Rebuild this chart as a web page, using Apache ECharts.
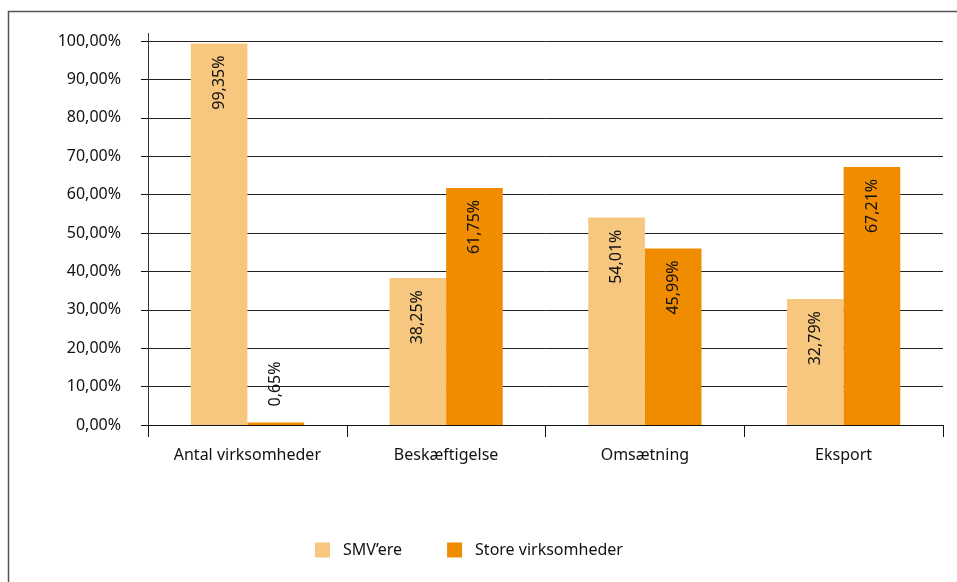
<!DOCTYPE html>
<html>
<head>
<meta charset="utf-8">
<script src="https://cdn.jsdelivr.net/npm/echarts@6/dist/echarts.min.js"></script>
<style>
  html, body { margin: 0; padding: 0; background: #fff; }
  #chart { width: 957px; height: 582px; }
</style>
</head>
<body>
<div id="chart"></div>
<script>
// Categories and shares (percent) for SMEs vs. large companies
const categories = ['Antal virksomheder', 'Beskæftigelse', 'Omsætning', 'Eksport'];
const smvValues = [99.35, 38.25, 54.01, 32.79];
const storeValues = [0.65, 61.75, 45.99, 67.21];
const seriesNames = ['SMV\u2019ere', 'Store virksomheder'];

const FONT = '"Noto Sans", "Open Sans", sans-serif';
const FS = 16;
const fmtPct = v => v.toFixed(2).replace('.', ',') + '%';

const chart = echarts.init(document.getElementById('chart'), null, { renderer: 'canvas' });

// Inside-top rotated labels; small bars get their label above the bar
function labelFor(v) {
  if (v < 5) {
    return {
      show: true, position: 'top', rotate: 90, align: 'left', verticalAlign: 'middle',
      distance: 16, formatter: p => fmtPct(p.value),
      fontFamily: FONT, fontSize: FS, color: '#111'
    };
  }
  return {
    show: true, position: 'insideTop', rotate: 90, align: 'right', verticalAlign: 'middle',
    distance: 12, formatter: p => fmtPct(p.value),
    fontFamily: FONT, fontSize: FS, color: '#111'
  };
}

const mkData = arr => arr.map(v => ({ value: v, label: labelFor(v) }));

chart.setOption({
  animation: false,
  backgroundColor: '#fff',
  textStyle: { fontFamily: FONT },
  grid: { left: 148, top: 41, right: 14, bottom: 157, containLabel: false },
  legend: {
    bottom: 19, left: 310,
    itemWidth: 15, itemHeight: 15, itemGap: 45,
    icon: 'rect',
    textStyle: { fontFamily: FONT, fontSize: FS, color: '#111', padding: [0, 0, 0, 8] },
    data: seriesNames
  },
  xAxis: {
    type: 'category',
    data: categories,
    axisLine: { show: true, lineStyle: { color: '#111', width: 1 } },
    axisTick: { show: true, length: 12, lineStyle: { color: '#111' } },
    axisLabel: { fontFamily: FONT, fontSize: FS, color: '#111', margin: 22 },
    splitLine: { show: false }
  },
  yAxis: {
    type: 'value',
    min: 0, max: 100, interval: 10,
    axisLine: { show: true, lineStyle: { color: '#333', width: 1 } },
    axisTick: { show: true, length: 7, inside: false, lineStyle: { color: '#111' } },
    axisLabel: {
      fontFamily: FONT, fontSize: FS, color: '#111', margin: 27,
      formatter: v => v.toFixed(2).replace('.', ',') + '%'
    },
    splitLine: { show: true, lineStyle: { color: '#222', width: 1 } }
  },
  series: [
    {
      name: seriesNames[0], type: 'bar',
      data: mkData(smvValues),
      itemStyle: { color: '#F7C77F' },
      barGap: '0%', barCategoryGap: '43%'
    },
    {
      name: seriesNames[1], type: 'bar',
      data: mkData(storeValues),
      itemStyle: { color: '#F08C00' },
      barGap: '0%', barCategoryGap: '43%'
    }
  ],
  graphic: [
    {
      type: 'rect', silent: true, z: -1,
      shape: { x: 8.5, y: 11.5, width: 980, height: 600 },
      style: { fill: null, stroke: '#555', lineWidth: 1.5 }
    },
    {
      type: 'line', silent: true,
      shape: { x1: 148.5, y1: 33, x2: 148.5, y2: 41 },
      style: { stroke: '#333', lineWidth: 1 }
    }
  ]
});
</script>
</body>
</html>
